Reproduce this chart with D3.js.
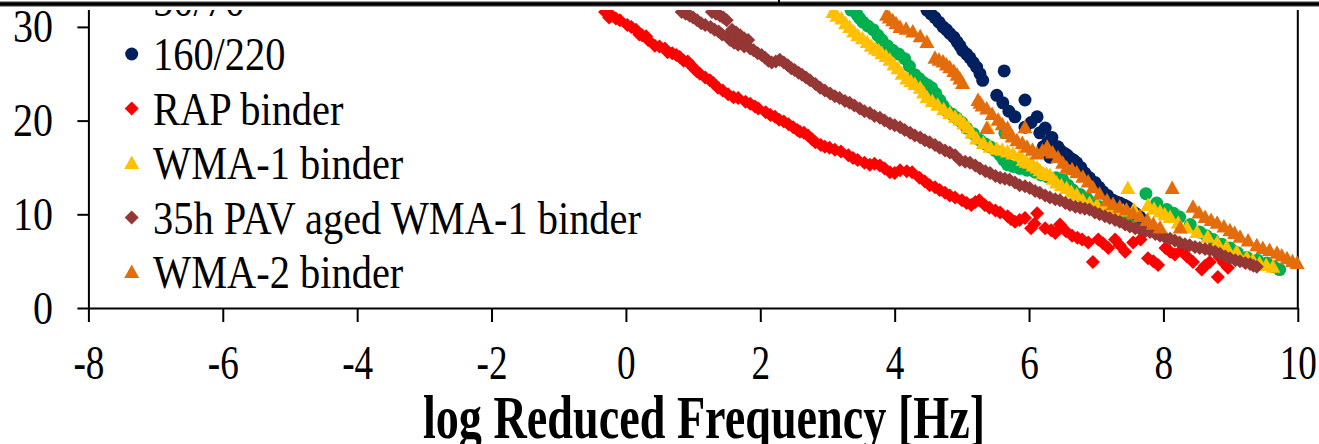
<!DOCTYPE html>
<html>
<head>
<meta charset="utf-8">
<script src="https://cdn.jsdelivr.net/npm/d3@7"></script>
<style>
	body { margin: 0; background: #fff; }
	svg { display: block; }
	text { font-family: "Liberation Serif", "Times New Roman", serif; fill: #000; }
	.axis path, .axis line { stroke: #000; stroke-width: 2; }
</style>
</head>
<body>
<svg></svg>
<script>
// values: [log reduced frequency, value]
var bin5070 = [[3.35,31.8],[3.44,31.3],[3.48,30.9],[3.53,30.5],[3.60,30.1],[3.68,29.7],[3.75,29.1],[3.81,28.6],[3.89,28.0],[3.97,27.5],[4.06,27.1],[4.15,26.6],[4.22,25.8],[4.30,24.9],[4.36,24.5],[4.42,24.1],[4.49,23.8],[4.55,23.5],[4.61,22.9],[4.67,22.2],[4.72,21.6],[4.77,21.1],[4.85,20.7],[4.92,20.3],[5.00,19.8],[5.07,19.2],[5.17,18.6],[5.27,17.9],[5.35,17.5],[5.42,17.2],[5.50,16.8],[5.57,16.3],[5.64,18.7],[5.62,15.8],[5.68,15.3],[5.76,15.1],[5.86,14.9],[5.97,14.7],[6.09,14.5],[6.18,14.2],[6.28,14.0],[6.40,13.9],[6.50,13.7],[6.58,13.1],[6.65,12.6],[6.76,12.1],[6.86,11.7],[6.95,11.2],[7.05,10.8],[7.15,10.5],[7.25,10.2],[7.35,9.8],[7.46,9.4],[7.55,9.2],[7.74,12.2],[7.90,11.2],[8.05,10.5],[8.15,10.1],[8.24,9.7],[8.40,8.9],[8.54,8.1],[8.64,7.7],[8.74,7.3],[8.87,6.8],[8.99,6.4],[9.10,5.9],[9.24,5.4],[9.40,5.1],[9.54,4.8],[9.64,4.4],[9.73,4.1]];
var bin160220 = [[4.48,31.8],[4.54,31.4],[4.60,31.0],[4.66,30.5],[4.72,30.0],[4.77,29.7],[4.82,29.3],[4.88,28.9],[4.93,28.4],[4.97,28.0],[5.01,27.5],[5.07,27.1],[5.12,26.7],[5.17,26.2],[5.22,25.7],[5.27,25.0],[5.31,24.3],[5.63,25.3],[5.52,22.7],[5.61,21.9],[5.70,21.0],[5.79,20.4],[5.94,22.2],[6.12,20.4],[5.94,19.3],[6.03,19.8],[6.24,19.2],[6.16,18.7],[6.34,18.2],[6.28,17.7],[6.21,17.2],[6.43,17.2],[6.38,17.0],[6.47,16.8],[6.53,16.5],[6.57,16.3],[6.61,16.0],[6.31,16.1],[6.66,15.8],[6.71,15.5],[6.77,15.0],[6.83,14.4],[6.90,13.9],[6.98,13.4],[7.04,12.9],[7.10,12.4],[7.17,12.0],[7.25,11.5],[7.30,11.3],[7.35,11.2],[7.41,11.0],[7.46,10.8],[7.51,10.5],[7.56,10.2],[7.60,10.0],[7.65,9.7]];
var rapBinder = [[-0.31,31.6],[-0.25,31.0],[-0.21,31.2],[-0.15,30.9],[-0.09,30.7],[0.02,30.2],[0.08,30.0],[0.15,29.7],[0.20,29.2],[0.24,29.1],[0.30,29.0],[0.33,28.6],[0.43,28.0],[0.50,27.9],[0.58,27.7],[0.62,27.3],[0.69,27.2],[0.75,27.0],[0.80,26.8],[0.86,26.4],[0.92,26.3],[0.97,25.9],[1.01,25.6],[1.05,25.3],[1.10,25.0],[1.18,24.6],[1.25,24.3],[1.30,24.0],[1.37,23.5],[1.44,23.2],[1.52,22.8],[1.60,22.5],[1.67,22.4],[1.78,22.0],[1.85,21.8],[1.92,21.5],[1.97,21.3],[2.08,20.9],[2.15,20.6],[2.22,20.4],[2.28,20.1],[2.35,19.9],[2.42,19.6],[2.49,19.3],[2.55,19.0],[2.59,18.8],[2.65,18.7],[2.71,18.4],[2.77,18.0],[2.82,17.7],[2.90,17.4],[2.96,17.2],[3.03,17.1],[3.11,16.9],[3.20,16.7],[3.31,16.3],[3.38,16.0],[3.45,15.8],[3.55,15.5],[3.63,15.3],[3.70,15.4],[3.78,15.2],[3.85,14.9],[3.93,14.5],[4.00,14.4],[4.08,14.7],[4.18,14.6],[4.26,14.5],[4.37,13.9],[4.45,13.5],[4.52,13.1],[4.60,12.9],[4.67,12.6],[4.75,12.3],[4.82,12.0],[4.90,11.8],[5.00,11.5],[5.07,11.2],[5.14,11.0],[5.20,11.3],[5.26,11.5],[5.34,11.0],[5.41,10.7],[5.50,10.4],[5.57,10.2],[5.68,9.8],[5.73,9.5],[5.79,9.2],[5.86,9.4],[5.94,9.6],[6.12,10.1],[6.03,8.5],[6.08,9.0],[6.24,8.5],[6.33,8.3],[6.39,8.0],[6.46,8.9],[6.55,8.2],[6.64,7.7],[6.72,7.5],[6.79,7.3],[6.88,7.0],[6.95,4.9],[7.03,7.3],[7.10,6.9],[7.18,6.4],[7.28,7.3],[7.35,6.7],[7.43,6.0],[7.55,7.0],[7.66,7.3],[7.77,5.3],[7.85,5.0],[7.92,4.6],[8.03,6.4],[8.10,6.0],[8.17,5.7],[8.27,6.2],[8.35,5.5],[8.44,4.9],[8.57,4.1],[8.62,4.5],[8.69,4.9],[8.84,5.4],[8.81,3.3],[8.90,4.8],[8.96,4.3]];
var wma1Binder = [[3.08,31.6],[3.14,31.2],[3.21,30.9],[3.27,30.4],[3.33,30.0],[3.39,29.5],[3.45,29.1],[3.52,28.8],[3.59,28.4],[3.65,28.0],[3.71,27.7],[3.76,27.5],[3.81,27.2],[3.87,26.9],[3.93,26.5],[3.99,26.0],[4.05,25.6],[4.11,25.0],[4.18,24.5],[4.24,24.2],[4.30,23.9],[4.38,23.5],[4.43,23.0],[4.48,22.5],[4.56,22.1],[4.64,21.7],[4.73,21.2],[4.82,20.8],[4.90,20.4],[4.97,20.1],[5.03,19.7],[5.09,19.3],[5.15,18.7],[5.22,18.1],[5.39,19.2],[5.32,17.6],[5.42,17.2],[5.52,17.0],[5.60,16.9],[5.68,16.7],[5.76,16.5],[5.86,16.3],[5.91,15.8],[5.96,15.6],[6.01,15.5],[6.06,15.2],[6.12,15.0],[6.16,14.7],[6.21,14.4],[6.26,14.3],[6.31,14.2],[6.36,13.8],[6.41,13.4],[6.48,13.1],[6.56,12.8],[6.63,12.4],[6.71,12.1],[6.80,11.5],[6.90,11.2],[7.01,11.0],[7.13,10.7],[7.25,10.5],[7.40,10.4],[7.47,12.8],[7.56,10.5],[7.77,11.0],[7.86,10.6],[7.95,10.3],[8.02,10.0],[8.10,9.7],[8.22,9.1],[8.35,8.6],[8.50,8.1],[8.66,7.6],[8.80,7.0],[8.94,6.5],[9.09,6.0],[9.24,5.4],[9.33,5.1],[9.43,4.8],[9.53,4.6],[9.63,4.4]];
var pavWma1Binder = [[0.83,31.6],[0.89,31.4],[0.95,31.2],[1.00,31.0],[1.06,30.7],[1.12,30.4],[1.18,30.2],[1.28,31.6],[1.34,31.4],[1.40,31.2],[1.45,31.0],[1.50,30.7],[1.26,30.0],[1.32,29.7],[1.38,29.5],[1.43,29.2],[1.50,29.0],[1.58,29.7],[1.64,29.4],[1.70,29.1],[1.76,28.8],[1.82,28.6],[1.55,28.6],[1.61,28.3],[1.67,28.1],[1.76,27.9],[1.85,27.7],[1.90,27.5],[1.96,27.2],[2.02,27.0],[2.07,26.7],[2.12,26.4],[2.17,26.2],[2.23,26.3],[2.29,26.5],[2.35,26.2],[2.41,25.9],[2.46,25.6],[2.51,25.4],[2.57,25.1],[2.62,24.9],[2.68,24.6],[2.74,24.3],[2.82,23.9],[2.89,23.5],[2.96,23.2],[3.04,22.9],[3.11,22.6],[3.18,22.4],[3.26,22.1],[3.33,21.9],[3.40,21.6],[3.48,21.3],[3.55,21.0],[3.63,20.8],[3.70,20.5],[3.78,20.3],[3.85,20.0],[3.93,19.7],[4.00,19.5],[4.08,19.3],[4.15,19.0],[4.23,18.7],[4.30,18.4],[4.38,18.2],[4.45,17.9],[4.52,17.7],[4.60,17.4],[4.67,17.1],[4.75,16.8],[4.82,16.6],[4.90,16.3],[4.97,15.8],[5.05,15.6],[5.12,15.5],[5.20,15.2],[5.27,14.9],[5.35,14.6],[5.42,14.4],[5.50,14.1],[5.57,13.9],[5.64,13.8],[5.71,13.7],[5.79,13.4],[5.86,13.1],[5.94,13.0],[6.01,12.8],[6.09,12.5],[6.16,12.3],[6.24,12.0],[6.31,11.8],[6.39,11.6],[6.46,11.5],[6.54,11.2],[6.61,11.0],[6.69,10.8],[6.76,10.7],[6.83,10.6],[6.90,10.5],[6.98,10.2],[7.05,10.0],[7.13,9.8],[7.20,9.6],[7.28,9.4],[7.35,9.2],[7.43,8.9],[7.50,8.7],[7.58,8.5],[7.65,8.4],[7.73,8.2],[7.80,8.1],[7.88,7.9],[7.95,7.7],[8.03,7.5],[8.10,7.4],[8.17,7.2],[8.24,7.0],[8.32,6.8],[8.39,6.7],[8.47,6.5],[8.54,6.4],[8.62,6.3],[8.69,6.2],[8.77,6.0],[8.84,5.8],[8.92,5.5],[8.99,5.3],[9.07,5.1],[9.14,5.0],[9.22,4.8],[9.29,4.7],[9.34,4.5],[9.39,4.4]];
var wma2Binder = [[3.88,31.3],[3.92,31.0],[3.97,30.7],[4.02,30.4],[4.08,30.0],[4.17,29.8],[4.27,29.5],[4.38,29.0],[4.48,28.4],[4.60,26.7],[4.66,26.5],[4.72,26.3],[4.77,26.0],[4.82,25.7],[4.88,25.3],[4.93,24.9],[4.97,24.5],[5.01,24.0],[5.24,22.2],[5.27,21.9],[5.30,21.6],[5.37,21.3],[5.45,20.7],[5.37,19.2],[5.54,20.1],[5.60,19.6],[5.67,18.7],[5.68,19.2],[5.75,18.3],[5.82,17.9],[5.94,19.3],[5.90,17.6],[5.97,17.2],[6.05,16.9],[6.12,16.5],[6.20,16.8],[6.27,17.2],[6.35,16.6],[6.43,16.1],[6.50,15.5],[6.56,15.0],[6.64,14.8],[6.71,14.5],[6.80,14.0],[6.88,13.5],[6.95,12.9],[7.05,12.2],[7.16,11.5],[7.25,11.1],[7.35,10.8],[7.45,10.5],[7.55,10.1],[7.65,9.8],[7.76,9.4],[7.85,9.0],[7.95,8.6],[8.13,12.8],[8.25,8.6],[8.44,10.8],[8.53,10.2],[8.62,9.7],[8.71,9.4],[8.80,9.1],[8.90,8.7],[8.99,8.3],[9.06,8.0],[9.14,7.6],[9.26,7.2],[9.39,6.7],[9.48,6.4],[9.58,6.2],[9.69,5.9],[9.76,5.6],[9.84,5.3],[9.92,5.0],[9.99,4.8]];

var seriesNames = ["50/70", "160/220", "RAP binder", "WMA-1 binder", "35h PAV aged WMA-1 binder", "WMA-2 binder"];
var seriesData = [bin5070, bin160220, rapBinder, wma1Binder, pavWma1Binder, wma2Binder];
var xTicks = [-8, -6, -4, -2, 0, 2, 4, 6, 8, 10];
var yTicks = [0, 10, 20, 30];
var xTitle = "log Reduced Frequency [Hz]";

// styles
var colors = ["#00B050", "#002060", "#FF0000", "#FFC000", "#953735", "#E46C0A"];
var shapes = ["circle", "circle", "diamond", "triangle", "diamond", "triangle"];
var shapePath = {
	circle: "M6.5,0A6.5,6.5 0 1,1 -6.5,0A6.5,6.5 0 1,1 6.5,0Z",
	diamond: "M0,-7L7,0L0,7L-7,0Z",
	triangle: "M0,-7.5L7.5,6L-7.5,6Z"
};

var W = 1319, H = 444;
var svg = d3.select("svg").attr("width", W).attr("height", H);

var x = d3.scaleLinear().domain([-8, 10]).range([88.4, 1297.8]);
var y = d3.scaleLinear().domain([0, 35]).range([308, 308 - 35 * 9.37]);

svg.append("defs").append("clipPath").attr("id", "cut")
	.append("rect").attr("x", 0).attr("y", 10).attr("width", W).attr("height", H - 10);

var g = svg.append("g").attr("clip-path", "url(#cut)");

// y axis
var yAxis = g.append("g").attr("class", "axis")
	.attr("transform", "translate(" + x(-8) + ",0)")
	.call(d3.axisLeft(y).tickValues(yTicks).tickSizeInner(11).tickSizeOuter(0).tickFormat(d => String(d)));
yAxis.selectAll("text")
	.attr("x", null).attr("dy", null)
	.attr("text-anchor", "end")
	.attr("transform", "translate(-35.4,15) scale(0.87,1)")
	.style("font-size", "46px");

// right border
g.append("line")
	.attr("x1", x(10)).attr("x2", x(10))
	.attr("y1", y(35)).attr("y2", y(0))
	.attr("stroke", "#000").attr("stroke-width", 2);

// points
seriesData.forEach(function (pts, i) {
	g.append("g").selectAll("path")
		.data(pts)
		.enter()
		.append("path")
		.attr("d", shapePath[shapes[i]])
		.attr("transform", d => "translate(" + x(d[0]) + "," + y(d[1]) + ")")
		.attr("fill", colors[i]);
});

// x axis
var xAxis = g.append("g").attr("class", "axis")
	.attr("transform", "translate(0," + y(0) + ")")
	.call(d3.axisBottom(x).tickValues(xTicks).tickSizeInner(14).tickSizeOuter(0).tickFormat(d => String(d)));
xAxis.selectAll("text")
	.attr("y", null).attr("dy", null)
	.attr("transform", "translate(0,71.3) scale(0.76,1)")
	.style("font-size", "49px");

// legend
var legend = g.append("g");
seriesNames.forEach(function (name, i) {
	var cy = 54.5 * i - 0.5;
	legend.append("path")
		.attr("d", shapePath[shapes[i]])
		.attr("transform", "translate(131.7," + cy + ")")
		.attr("fill", colors[i]);
	legend.append("text")
		.attr("transform", "translate(153," + (cy + 16) + ") scale(0.86,1)")
		.style("font-size", "47px")
		.text(name);
});

// axis title
g.append("text")
	.attr("transform", "translate(704,438) scale(0.745,1)")
	.attr("text-anchor", "middle")
	.style("font-size", "62px")
	.style("font-weight", "bold")
	.text(xTitle);

// bottom edge of the panel above
svg.append("line").attr("x1", 0).attr("x2", W).attr("y1", 4).attr("y2", 4)
	.attr("stroke", "#999").attr("stroke-width", 6);
svg.append("line").attr("x1", 0).attr("x2", W).attr("y1", 4).attr("y2", 4)
	.attr("stroke", "#000").attr("stroke-width", 3.5);
svg.append("line").attr("x1", 779).attr("x2", 779).attr("y1", 0).attr("y2", 4)
	.attr("stroke", "#000").attr("stroke-width", 2);
</script>
</body>
</html>
